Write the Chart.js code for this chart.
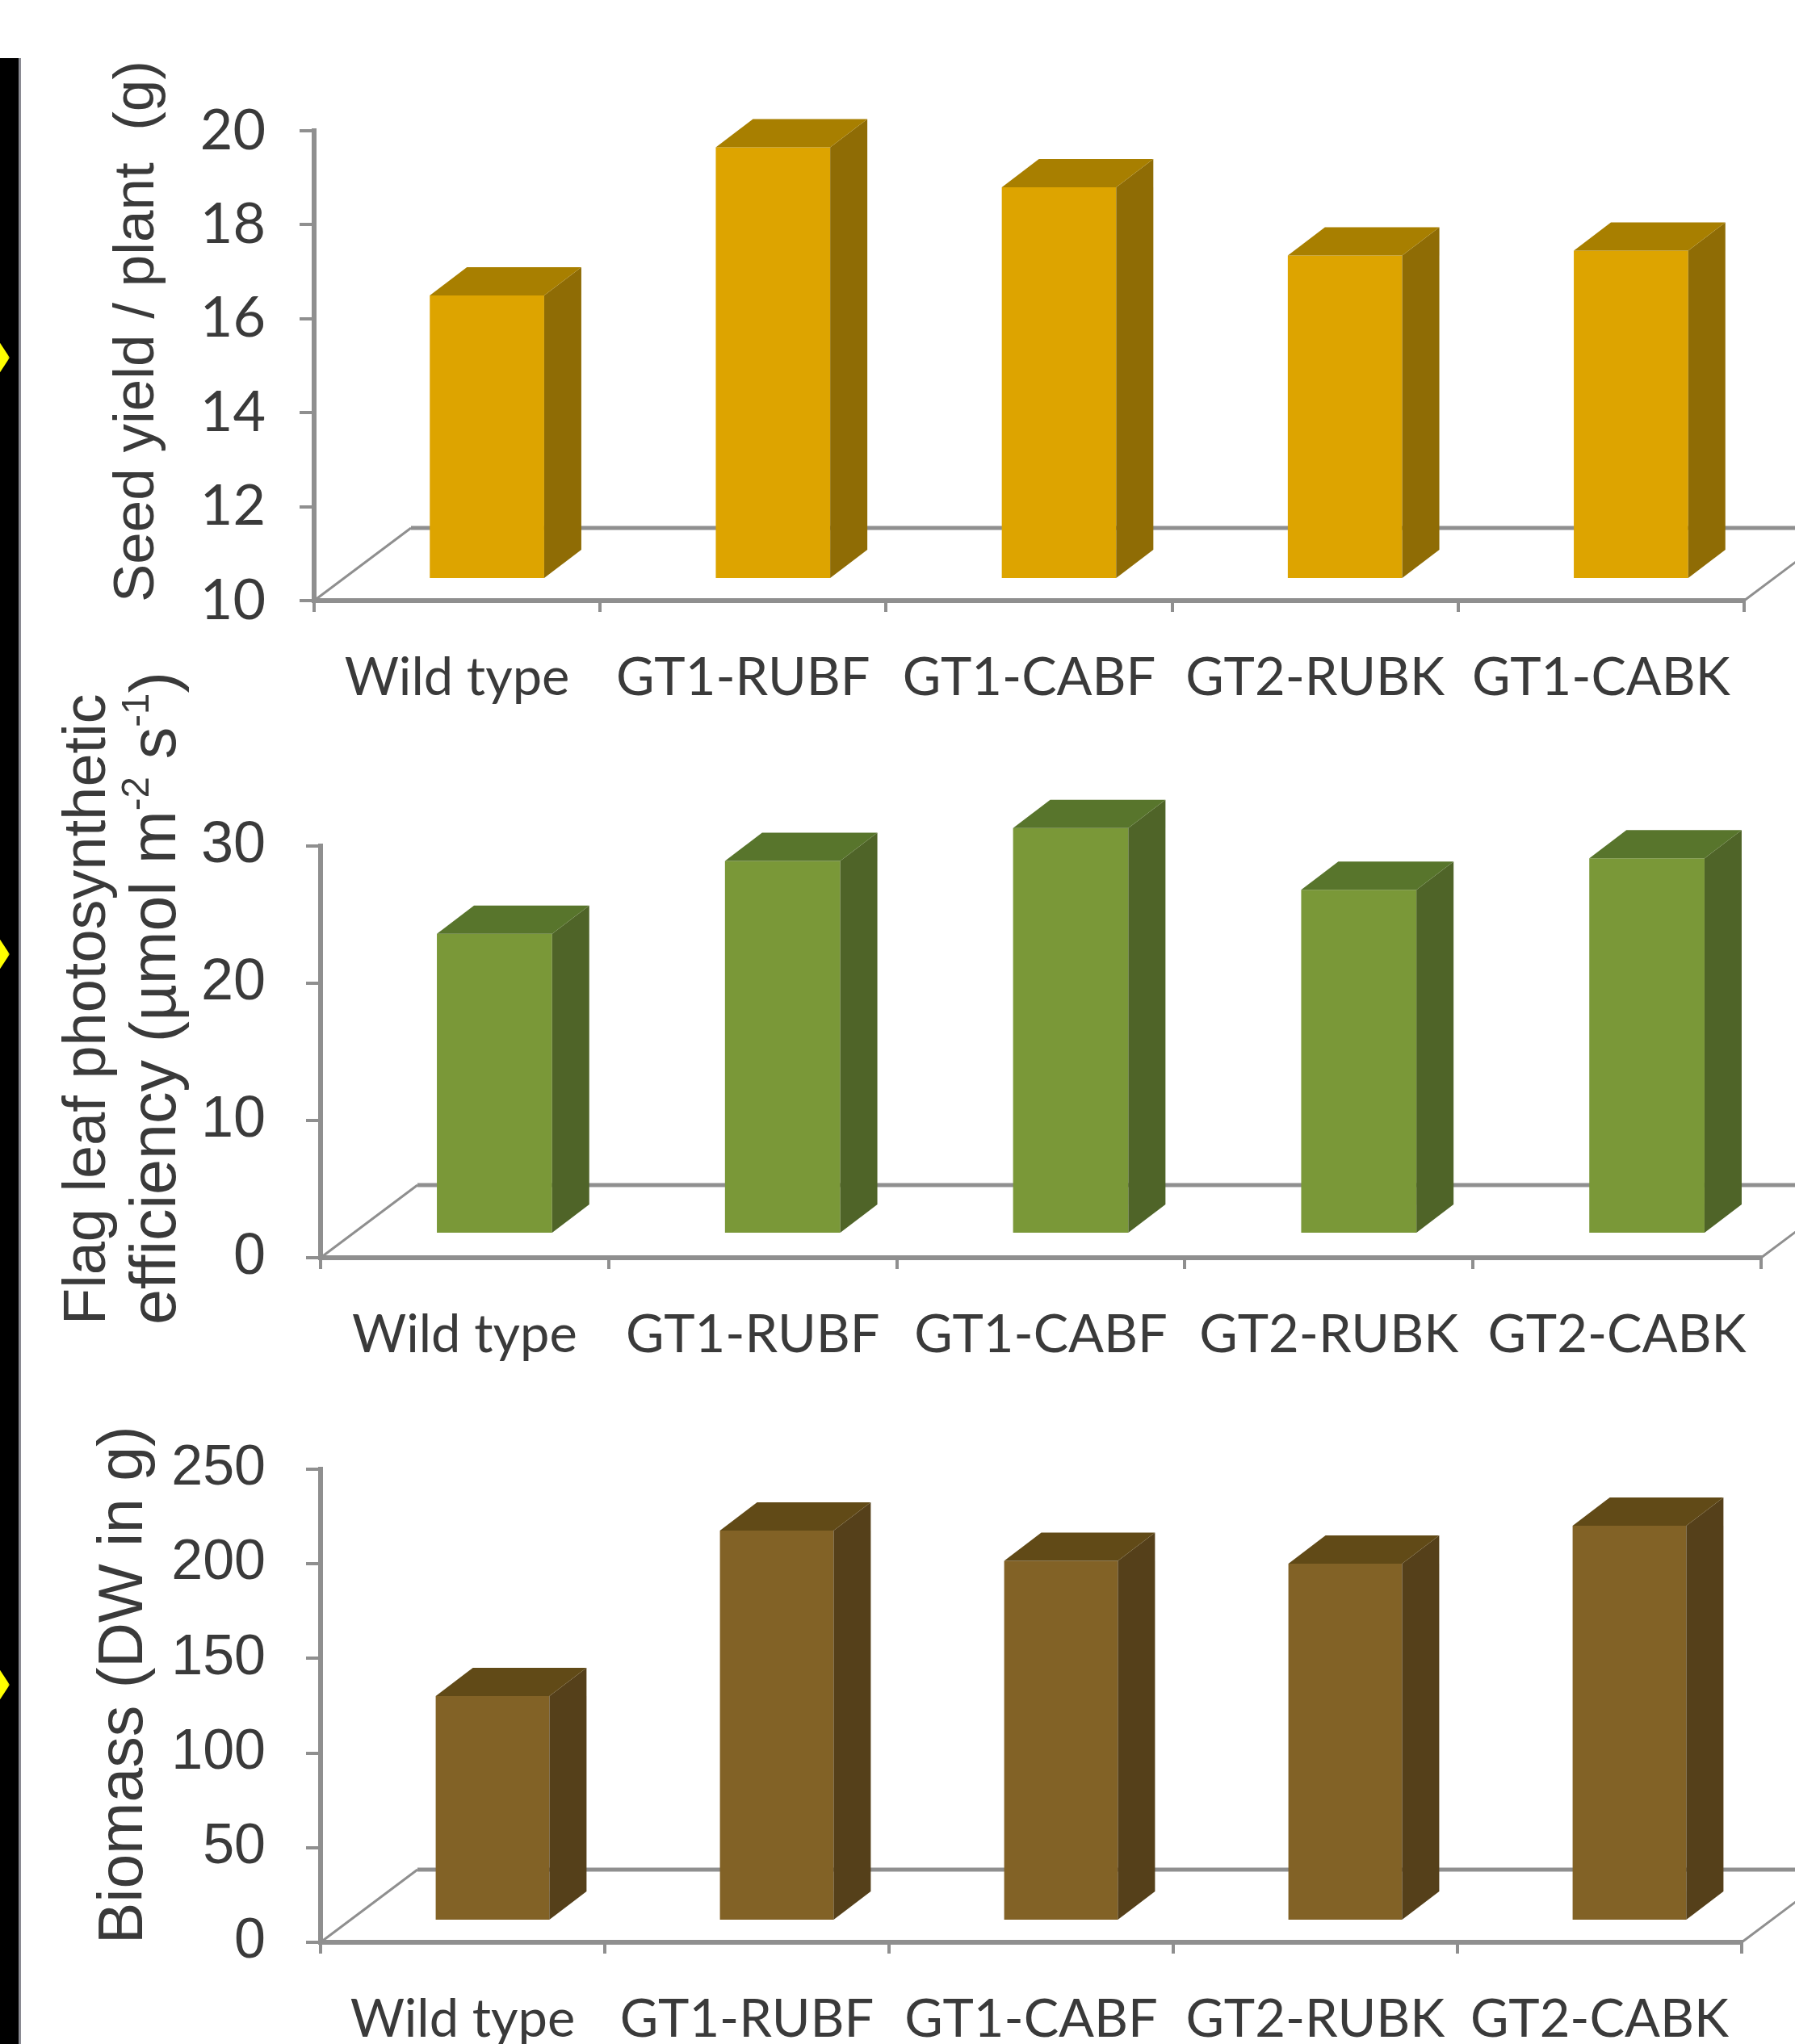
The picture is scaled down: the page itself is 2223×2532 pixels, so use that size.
<!DOCTYPE html>
<html>
<head>
<meta charset="utf-8">
<title>Seed yield, photosynthetic efficiency and biomass</title>
<script src="https://cdn.jsdelivr.net/npm/chart.js@4/dist/chart.umd.min.js"></script>
<style>
    html, body { margin: 0; padding: 0; background: #fff; }
    #page { position: relative; width: 2223px; height: 2532px; overflow: hidden; }
    #strip { position: absolute; left: 0; top: 72px; width: 23px; bottom: 0; background: #000; border-right: 3px solid #8a8a92; }
    .mark { position: absolute; left: -30px; width: 42px; height: 64px; background: #ff0; filter: blur(1.5px);
            clip-path: polygon(50% 0, 100% 50%, 50% 100%, 0 50%); }
    canvas { position: absolute; left: 0; }
</style>
</head>
<body>
<div id="page">
    <div id="strip"></div>
    <div class="mark" style="top:411px"></div>
    <div class="mark" style="top:1150px"></div>
    <div class="mark" style="top:2055px"></div>
    <canvas id="seed" width="2223" height="900" style="top:0"></canvas>
    <canvas id="flag" width="2223" height="880" style="top:820px"></canvas>
    <canvas id="biomass" width="2223" height="812" style="top:1720px"></canvas>
</div>
<script>
const seedLabels = ['Wild type', 'GT1-RUBF', 'GT1-CABF', 'GT2-RUBK', 'GT1-CABK'];
const flagLabels = ['Wild type', 'GT1-RUBF', 'GT1-CABF', 'GT2-RUBK', 'GT2-CABK'];
const biomassLabels = ['Wild type', 'GT1-RUBF', 'GT1-CABF', 'GT2-RUBK', 'GT2-CABK'];

const seedValues = [16.05, 19.2, 18.35, 16.9, 17.0];
const flagValues = [21.9, 27.2, 29.6, 25.1, 27.4];
const biomassValues = [119, 206.5, 190.5, 189, 209];

const AXIS_COLOR = '#8f8f8f';
const TEXT_COLOR = '#3a3a3a';

// fake 3D: shifts the bars onto the floor and adds the top and side faces
const bars3d = {
    id: 'bars3d',
    beforeDatasetsDraw(chart, args, opts) {
        const { ctx, chartArea: a } = chart;
        const backY = a.bottom - opts.floorY;
        ctx.save();
        ctx.strokeStyle = AXIS_COLOR;
        ctx.lineWidth = 3;
        ctx.beginPath();
        ctx.moveTo(a.left, a.bottom);
        ctx.lineTo(a.left + opts.floorX, backY);
        ctx.moveTo(a.right, a.bottom);
        ctx.lineTo(a.right + opts.floorX, backY);
        ctx.stroke();
        ctx.lineWidth = 5;
        ctx.beginPath();
        ctx.moveTo(a.left + opts.floorX, backY);
        ctx.lineTo(a.right + opts.floorX, backY);
        ctx.stroke();
        ctx.translate(opts.shiftX, opts.shiftY);
    },
    afterDatasetsDraw(chart, args, opts) {
        const { ctx } = chart;
        const dx = opts.depthX, dy = opts.depthY;
        chart.getDatasetMeta(0).data.forEach(bar => {
            const l = bar.x - bar.width / 2, r = bar.x + bar.width / 2;
            ctx.fillStyle = opts.sideColor;
            ctx.beginPath();
            ctx.moveTo(r, bar.y);
            ctx.lineTo(r + dx, bar.y - dy);
            ctx.lineTo(r + dx, bar.base - dy);
            ctx.lineTo(r, bar.base);
            ctx.closePath();
            ctx.fill();
            ctx.fillStyle = opts.topColor;
            ctx.beginPath();
            ctx.moveTo(l, bar.y);
            ctx.lineTo(l + dx, bar.y - dy);
            ctx.lineTo(r + dx, bar.y - dy);
            ctx.lineTo(r, bar.y);
            ctx.closePath();
            ctx.fill();
        });
        ctx.restore();
    }
};

// axis titles sit off centre from the axis, so they are placed by hand
const sideTitle = {
    id: 'sideTitle',
    afterDraw(chart, args, opts) {
        const { ctx, chartArea: a } = chart;
        ctx.save();
        ctx.fillStyle = TEXT_COLOR;
        ctx.textBaseline = 'alphabetic';
        opts.lines.forEach(line => {
            ctx.save();
            ctx.translate(line.x, a.bottom + opts.below);
            ctx.rotate(-Math.PI / 2);
            let pos = 0;
            line.runs.forEach(run => {
                const size = run.sup ? line.size * 0.6 : line.size;
                ctx.font = `${size}px "Liberation Sans"`;
                ctx.fillText(run.text, pos, run.sup ? -line.size * 0.42 : 0);
                pos += ctx.measureText(run.text).width;
            });
            ctx.restore();
        });
        ctx.restore();
    }
};

function panel(id, labels, values, o) {
    new Chart(document.getElementById(id), {
        type: 'bar',
        data: {
            labels,
            datasets: [{
                data: values,
                base: o.min,
                backgroundColor: o.front,
                borderWidth: 0,
                barPercentage: 0.4,
                categoryPercentage: 1,
                clip: false
            }]
        },
        plugins: [bars3d, sideTitle],
        options: {
            responsive: false,
            animation: false,
            events: [],
            layout: {
                autoPadding: false,
                padding: { left: 0, right: 2223 - o.right, top: o.top, bottom: 0 }
            },
            scales: {
                x: {
                    afterFit: s => { s.height = o.bottom; },
                    border: { color: AXIS_COLOR, width: 6 },
                    grid: { color: AXIS_COLOR, lineWidth: 4, drawOnChartArea: false, tickLength: 14 },
                    ticks: {
                        color: TEXT_COLOR, maxRotation: 0, autoSkip: false, padding: 43,
                        font: { family: 'Lato', size: 65 }
                    }
                },
                y: {
                    min: o.min,
                    max: o.max,
                    afterFit: s => { s.width = o.left; },
                    border: { color: AXIS_COLOR, width: 6 },
                    grid: { color: AXIS_COLOR, lineWidth: 4, drawOnChartArea: false, tickLength: 18 },
                    ticks: {
                        color: TEXT_COLOR, stepSize: o.step, padding: o.tickPad,
                        font: { family: o.tickFont, size: o.tickSize }
                    }
                }
            },
            plugins: {
                legend: { display: false },
                tooltip: { enabled: false },
                bars3d: {
                    floorX: 120, floorY: 90, shiftX: 37, shiftY: o.shiftY,
                    depthX: 46, depthY: 35, sideColor: o.side, topColor: o.cap
                },
                sideTitle: o.title
            }
        }
    });
}

panel('seed', seedLabels, seedValues, {
    left: 389, right: 2160, top: 162, bottom: 156, min: 10, max: 20, step: 2,
    shiftY: -26, front: '#dda400', side: '#8f6c05', cap: '#a87f00',
    tickFont: 'Lato', tickSize: 70, tickPad: 42,
    title: {
        below: 2,
        lines: [{ x: 190, size: 71, runs: [{ text: 'Seed yield / plant  (g)' }] }]
    }
});

panel('flag', flagLabels, flagValues, {
    left: 397, right: 2181, top: 228, bottom: 142, min: 0, max: 30, step: 10,
    shiftY: -29, front: '#7a9838', side: '#4f6428', cap: '#58752c',
    tickFont: 'Liberation Sans', tickSize: 72, tickPad: 50,
    title: {
        below: 83,
        lines: [
            { x: 130, size: 74, runs: [{ text: 'Flag leaf photosynthetic' }] },
            { x: 217, size: 79, runs: [
                { text: 'efficiency (µmol m' }, { text: '-2', sup: true },
                { text: ' s' }, { text: '-1', sup: true }, { text: ')' }
            ] }
        ]
    }
});

panel('biomass', biomassLabels, biomassValues, {
    left: 397, right: 2157, top: 100, bottom: 126, min: 0, max: 250, step: 50,
    shiftY: -26, front: '#826226', side: '#55401a', cap: '#614a17',
    tickFont: 'Liberation Sans', tickSize: 70, tickPad: 50,
    title: {
        below: 2,
        lines: [{ x: 176, size: 77, runs: [{ text: 'Biomass (DW in g)' }] }]
    }
});
</script>
</body>
</html>
